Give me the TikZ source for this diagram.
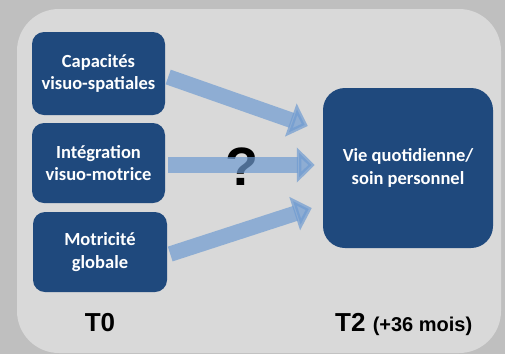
\documentclass[tikz,border=0pt]{standalone}
\usepackage{fontspec}
\setmainfont{Carlito}
\newfontfamily\arialfont{Liberation Sans}
\usetikzlibrary{arrows.meta,calc}
\definecolor{bgout}{HTML}{BFBFBF}
\definecolor{panel}{HTML}{D9D9D9}
\definecolor{boxblue}{HTML}{1F497D}
\definecolor{arrowblue}{HTML}{6F9BD1}
\tikzset{
  stepbox/.style={draw=none, fill=boxblue, rounded corners=12pt, text=white,
    font=\bfseries\fontsize{18.5}{22.5}\selectfont, align=center, inner sep=0pt},
  bigbox/.style={stepbox, rounded corners=22pt},
  bigarrow/.style={draw=arrowblue, line width=15.5pt, opacity=0.7,
    -{Triangle[length=18pt,width=34pt]}},
  timelabel/.style={font=\arialfont\bfseries\fontsize{26}{30}\selectfont, text=black, inner sep=0pt}
}
\begin{document}
\begin{tikzpicture}[x=1pt,y=-1pt]
\useasboundingbox (0,0) rectangle (505,354);
\fill[bgout] (0,0) rectangle (505,354);
\fill[panel, rounded corners=42pt] (17,9) rectangle (501,353);
\node[stepbox, minimum width=133pt, minimum height=83pt] (b1) at (98.5,73.5) {Capacités\\visuo-spatiales};
\node[stepbox, minimum width=133pt, minimum height=80pt] (b2) at (98.5,163) {Intégration\\visuo-motrice};
\node[stepbox, minimum width=134pt, minimum height=80pt] (b3) at (100,252) {Motricité\\globale};
\node[bigbox, minimum width=170pt, minimum height=160pt] (vq) at (408,168) {Vie quotidienne/\\soin personnel};
\node[font=\arialfont\bfseries\fontsize{54}{58}\selectfont, inner sep=0pt] (q) at (242,167) {?};
\coordinate (t1) at ([shift={(-15,-42)}]vq.west);
\coordinate (t2) at ([shift={(-8,-3)}]vq.west);
\coordinate (t3) at ([shift={(-11,40)}]vq.west);
\draw[bigarrow] ([shift={(3,3.5)}]b1.east) -- (t1);
\draw[bigarrow] ([shift={(3,2)}]b2.east) -- (t2);
\draw[bigarrow] ([shift={(3,2)}]b3.east) -- (t3);
\node[timelabel] (T0) at (100,323) {T0};
\node[timelabel, anchor=base west] (T2) at (335,331) {T2 {\fontsize{20}{24}\selectfont(+36 mois)}};
\end{tikzpicture}
\end{document}
